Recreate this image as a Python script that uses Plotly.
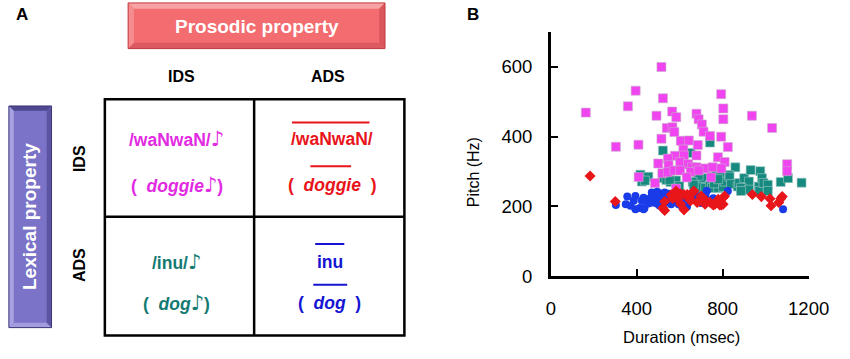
import plotly.graph_objects as go

# ---------------- data (panel B) ----------------
# IDS prosody + IDS lexical (/waNwaN/♪) - magenta squares
mag_dur = [163, 515, 395, 359, 522, 793, 803, 803, 492, 565, 584, 678, 688, 703, 711, 741, 793, 936, 1030,
           540, 566, 575, 515, 303, 408, 605, 642, 684, 824, 617, 620, 578, 545, 678, 778, 809, 500, 602,
           639, 548, 657, 678, 716, 753, 794, 519, 545, 575, 602, 651, 688, 633, 409, 746, 485, 583, 1100, 1100]
mag_pitch = [469, 600, 532, 487, 510, 522, 481, 450, 460, 472, 456, 466, 450, 435, 414, 402, 400, 460, 425,
             425, 427, 413, 394, 371, 377, 388, 389, 376, 370, 363, 346, 345, 337, 346, 341, 327, 323, 327,
             321, 318, 312, 312, 309, 312, 309, 295, 298, 303, 303, 299, 303, 283, 284, 283, 267, 251, 321, 301]

# IDS prosody + ADS lexical (/inu/♪) - teal squares
teal_dur = [522, 651, 741, 859, 417, 454, 424, 438, 522, 538, 557, 583, 553, 598, 681, 678, 696, 711, 678,
            703, 719, 741, 750, 756, 771, 779, 786, 794, 802, 809, 829, 832, 839, 870, 877, 900, 922, 886,
            922, 885, 930, 968, 971, 975, 983, 990, 1010, 1010, 1070, 1104, 1167, 688, 660, 665, 760, 779]
teal_pitch = [360, 353, 383, 312, 291, 285, 271, 274, 281, 276, 270, 274, 276, 258, 281, 267, 274, 281, 253,
              256, 253, 262, 253, 285, 290, 253, 290, 292, 256, 271, 290, 285, 264, 257, 267, 281, 271, 253,
              248, 244, 304, 257, 244, 301, 281, 267, 262, 244, 270, 281, 268, 288, 270, 262, 266, 278]

# ADS prosody + ADS lexical (inu) - blue circles
blue_dur = [303, 356, 349, 386, 394, 371, 414, 436, 424, 432, 470, 462, 477, 485, 492, 500, 507, 515, 522,
            530, 538, 545, 553, 560, 507, 595, 628, 658, 673, 688, 726, 756, 824, 1081, 634, 651, 583, 470,
            480, 495, 510, 520, 540, 460, 455, 612, 700, 615, 640, 394, 432,
            465, 475, 485, 495, 505, 515, 525, 535, 545, 555, 490, 500, 480, 520, 540, 470, 510, 530, 550,
            560, 600, 620, 660, 680, 700, 720, 610]
blue_pitch = [204, 228, 206, 216, 230, 202, 195, 195, 216, 225, 230, 216, 211, 234, 220, 206, 225, 216, 234,
              211, 225, 216, 230, 206, 202, 206, 211, 220, 234, 225, 244, 223, 244, 192, 199, 230, 220, 240,
              238, 242, 212, 220, 222, 220, 208, 228, 210, 202, 214, 192, 192,
              225, 235, 215, 230, 238, 228, 220, 232, 225, 218, 210, 225, 222, 208, 212, 212, 232, 240, 236,
              224, 215, 222, 228, 218, 222, 230, 200]

# ADS prosody + IDS lexical (waNwaN) - red diamonds
red_dur = [183, 300, 522, 530, 620, 590, 605, 620, 635, 651, 681, 703, 718, 764, 779, 802, 802, 786, 809,
           938, 980, 1020, 1025, 1070, 1077, 1061, 583, 605, 666, 756, 794, 723, 530, 567, 560, 645, 700,
           740, 660, 690, 648, 711]
red_pitch = [287, 214, 195, 188, 190, 220, 206, 234, 234, 216, 211, 225, 206, 206, 220, 225, 206, 204, 230,
             234, 228, 222, 202, 222, 228, 211, 244, 236, 244, 204, 204, 216, 214, 223, 233, 225, 230,
             212, 240, 215, 218, 211]

x_ticks = [0, 400, 800, 1200]
y_ticks = [0, 200, 400, 600]

# ---------------- figure ----------------
W, H = 850, 359
FONT = "Liberation Sans, Arial, Helvetica, sans-serif"


def fx(px):
    return px / W


def fy(py):
    return 1 - py / H


fig = go.Figure()

fig.add_trace(go.Scatter(x=teal_dur, y=teal_pitch, mode="markers", name="IDS/ADS",
                         marker=dict(symbol="square", size=9, color="#178a80",
                                     line=dict(width=0.6, color="#9fc9c4"))))
fig.add_trace(go.Scatter(x=mag_dur, y=mag_pitch, mode="markers", name="IDS/IDS",
                         marker=dict(symbol="square", size=9, color="#f044f0",
                                     line=dict(width=0.6, color="#c9a9c9"))))
fig.add_trace(go.Scatter(x=blue_dur, y=blue_pitch, mode="markers", name="ADS/ADS",
                         marker=dict(symbol="circle", size=8, color="#1a3be8", line=dict(width=0))))
fig.add_trace(go.Scatter(x=red_dur, y=red_pitch, mode="markers", name="ADS/IDS",
                         marker=dict(symbol="diamond", size=8.5, color="#e8161a", line=dict(width=0))))

axis_common = dict(showgrid=False, zeroline=False, showline=True, linecolor="black", linewidth=2.5,
                   ticks="inside", ticklen=7, tickwidth=2, tickcolor="black", ticklabeloverflow="allow",
                   tickfont=dict(family=FONT, size=18.5, color="black"), fixedrange=True)

fig.update_layout(
    width=W, height=H, margin=dict(l=0, r=0, t=0, b=0),
    paper_bgcolor="white", plot_bgcolor="white", showlegend=False,
    xaxis=dict(domain=[563 / W, 829 / W], range=[0, 1200], tickvals=x_ticks,
               ticklabelstandoff=14, **axis_common),
    yaxis=dict(domain=[fy(284), fy(33)], range=[0, 700], tickvals=y_ticks,
               ticklabelstandoff=12, **axis_common),
)

shapes = []
annotations = []


def poly(points, fill, line_color=None, lw=0):
    path = "M " + " L ".join(f"{fx(x)},{fy(y)}" for x, y in points) + " Z"
    shapes.append(dict(type="path", path=path, xref="paper", yref="paper",
                       fillcolor=fill, line=dict(width=lw, color=line_color or fill), layer="above"))


def bevel_box(x0, y0, x1, y1, b, fill, top, bottom, left, right, edge):
    poly([(x0, y0), (x1, y0), (x1, y1), (x0, y1)], fill)
    poly([(x0, y0), (x1, y0), (x1 - b, y0 + b), (x0 + b, y0 + b)], top)
    poly([(x0, y1), (x1, y1), (x1 - b, y1 - b), (x0 + b, y1 - b)], bottom)
    poly([(x0, y0), (x0 + b, y0 + b), (x0 + b, y1 - b), (x0, y1)], left)
    poly([(x1, y0), (x1 - b, y0 + b), (x1 - b, y1 - b), (x1, y1)], right)
    shapes.append(dict(type="rect", xref="paper", yref="paper", x0=fx(x0), x1=fx(x1), y0=fy(y1), y1=fy(y0),
                       line=dict(color=edge, width=1), layer="above"))


def line(x0, y0, x1, y1, color, w):
    shapes.append(dict(type="line", xref="paper", yref="paper", x0=fx(x0), x1=fx(x1), y0=fy(y0), y1=fy(y1),
                       line=dict(color=color, width=w), layer="above"))


def text(x, y, s, size, color="black", angle=0):
    annotations.append(dict(x=fx(x), y=fy(y), xref="paper", yref="paper", text=s, showarrow=False,
                            xanchor="center", yanchor="middle", textangle=angle,
                            font=dict(family=FONT, size=size, color=color)))


NOTE = '<span style="font-size:21px;font-family:DejaVu Sans">♪</span>'

# Prosodic property header
bevel_box(127, 3, 392, 50, 6, "#f26c70", "#f8a2a3", "#db5a5f", "#f58c8e", "#d9565b", "#c0393f")
text(259.5, 27, "<b>Prosodic property</b>", 19, "white")

# Lexical property side box
bevel_box(4, 109, 48, 337, 5, "#7a73c8", "#4d4890", "#a39dde", "#a8a2e2", "#5a54a2", "#3c3878")
text(26, 223, "<b>Lexical property</b>", 19, "white", -90)

# Panel labels
text(18, 15, "<b>A</b>", 17)
text(483, 15, "<b>B</b>", 17)

# Column / row headers
text(182, 79, "<b>IDS</b>", 16)
text(333, 79, "<b>ADS</b>", 16)
text(77, 163, "<b>IDS</b>", 16, angle=-90)
text(77, 273, "<b>ADS</b>", 16, angle=-90)

# Table
shapes.append(dict(type="rect", xref="paper", yref="paper", x0=fx(103), x1=fx(412), y0=fy(345), y1=fy(102),
                   line=dict(color="black", width=2.5), layer="above"))
line(257, 102, 257, 345, "black", 2.5)
line(103, 223, 412, 223, "black", 2.5)

MAG, RED, TEAL, BLUE = "#e22ae2", "#e8141a", "#137a72", "#1414d2"
CS = 17.5
text(177, 143, f"<b>/waNwaN/</b>{NOTE}", CS, MAG)
text(177, 190, f"<b>(  <i>doggie</i></b>{NOTE}<b>)</b>", CS, MAG)
text(337, 143, "<b>/waNwaN/</b>", CS, RED)
text(337, 190, "<b>(  <i>doggie</i>  )</b>", CS, RED)
line(296, 126, 376, 126, RED, 2)
line(315, 171, 357, 171, RED, 2)
text(177, 270, f"<b>/inu/</b>{NOTE}", CS, TEAL)
text(177, 312, f"<b>(  <i>dog</i></b>{NOTE}<b>)</b>", CS, TEAL)
text(335, 270, "<b>inu</b>", CS, BLUE)
text(335, 312, "<b>(  <i>dog</i>  )</b>", CS, BLUE)
line(320, 251, 350, 251, BLUE, 2)
line(318, 293, 353, 293, BLUE, 2)

# Axis titles
text(483, 177, "Pitch (Hz)", 16, angle=-90)
text(698, 347, "Duration (msec)", 16.5)

fig.update_layout(shapes=shapes, annotations=annotations)

fig.write_html("out.html", config={"displayModeBar": False},
               post_script="document.body.style.margin='0';document.body.style.padding='0';")
